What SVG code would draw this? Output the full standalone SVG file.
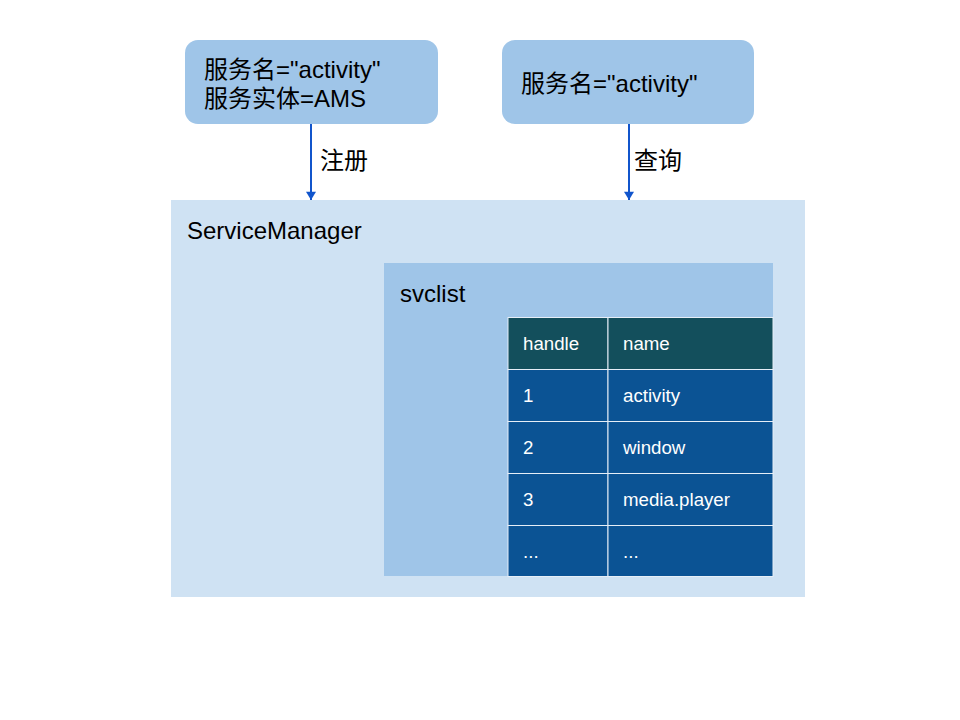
<svg xmlns="http://www.w3.org/2000/svg" width="960" height="720" viewBox="0 0 960 720">
<defs>
<style>
.t{font-family:"Liberation Sans","Noto Sans CJK SC",Arial,sans-serif;font-size:24px;fill:#000}
.c{font-family:"Liberation Sans",Arial,sans-serif;font-size:18.7px;fill:#fff}
.top{fill:#9fc5e8}
.row{fill:#0b5394;stroke:#e6eef7;stroke-width:1}
.hdr{fill:#134f5c;stroke:#e6eef7;stroke-width:1}
.conn{stroke:#1155cc;stroke-width:2;fill:none;marker-end:url(#ah)}
</style>
<marker id="ah" viewBox="0 0 10 12" refX="10" refY="6" markerWidth="12" markerHeight="10" orient="auto" markerUnits="userSpaceOnUse">
<path d="M0,0 L10,6 L0,12 z" fill="#1155cc"/>
</marker>
</defs>
<rect width="960" height="720" fill="#fff"/>
<g id="servicemanager">
<rect x="171" y="200" width="634" height="397" fill="#cfe2f3"/>
<text class="t" x="187" y="239">ServiceManager</text>
</g>
<g id="svclist">
<rect x="384" y="263" width="389" height="313" fill="#9fc5e8"/>
<text class="t" x="400" y="302">svclist</text>
</g>
<g id="table">
<rect class="hdr" x="508" y="317.5" width="100" height="52"/>
<rect class="hdr" x="608" y="317.5" width="165" height="52"/>
<rect class="row" x="508" y="369.5" width="100" height="52"/>
<rect class="row" x="608" y="369.5" width="165" height="52"/>
<rect class="row" x="508" y="421.5" width="100" height="52"/>
<rect class="row" x="608" y="421.5" width="165" height="52"/>
<rect class="row" x="508" y="473.5" width="100" height="52"/>
<rect class="row" x="608" y="473.5" width="165" height="52"/>
<rect class="row" x="508" y="525.5" width="100" height="51"/>
<rect class="row" x="608" y="525.5" width="165" height="51"/>
<text class="c" x="523" y="350">handle</text>
<text class="c" x="623" y="350">name</text>
<text class="c" x="523" y="402">1</text>
<text class="c" x="623" y="402">activity</text>
<text class="c" x="523" y="454">2</text>
<text class="c" x="623" y="454">window</text>
<text class="c" x="523" y="506">3</text>
<text class="c" x="623" y="506">media.player</text>
<text class="c" x="523" y="558">...</text>
<text class="c" x="623" y="558">...</text>
</g>
<g id="register-client">
<rect class="top" x="185" y="40" width="253" height="84" rx="13"/>
<text class="t" x="204" y="78">服务名="activity"</text>
<text class="t" x="204" y="107">服务实体=AMS</text>
</g>
<g id="query-client">
<rect class="top" x="502" y="40" width="252" height="84" rx="13"/>
<text class="t" x="521" y="92">服务名="activity"</text>
</g>
<g id="connectors">
<line class="conn" x1="311" y1="124" x2="311" y2="200"/>
<text class="t" x="320" y="169">注册</text>
<line class="conn" x1="629" y1="124" x2="629" y2="200"/>
<text class="t" x="634" y="169">查询</text>
</g>
</svg>
